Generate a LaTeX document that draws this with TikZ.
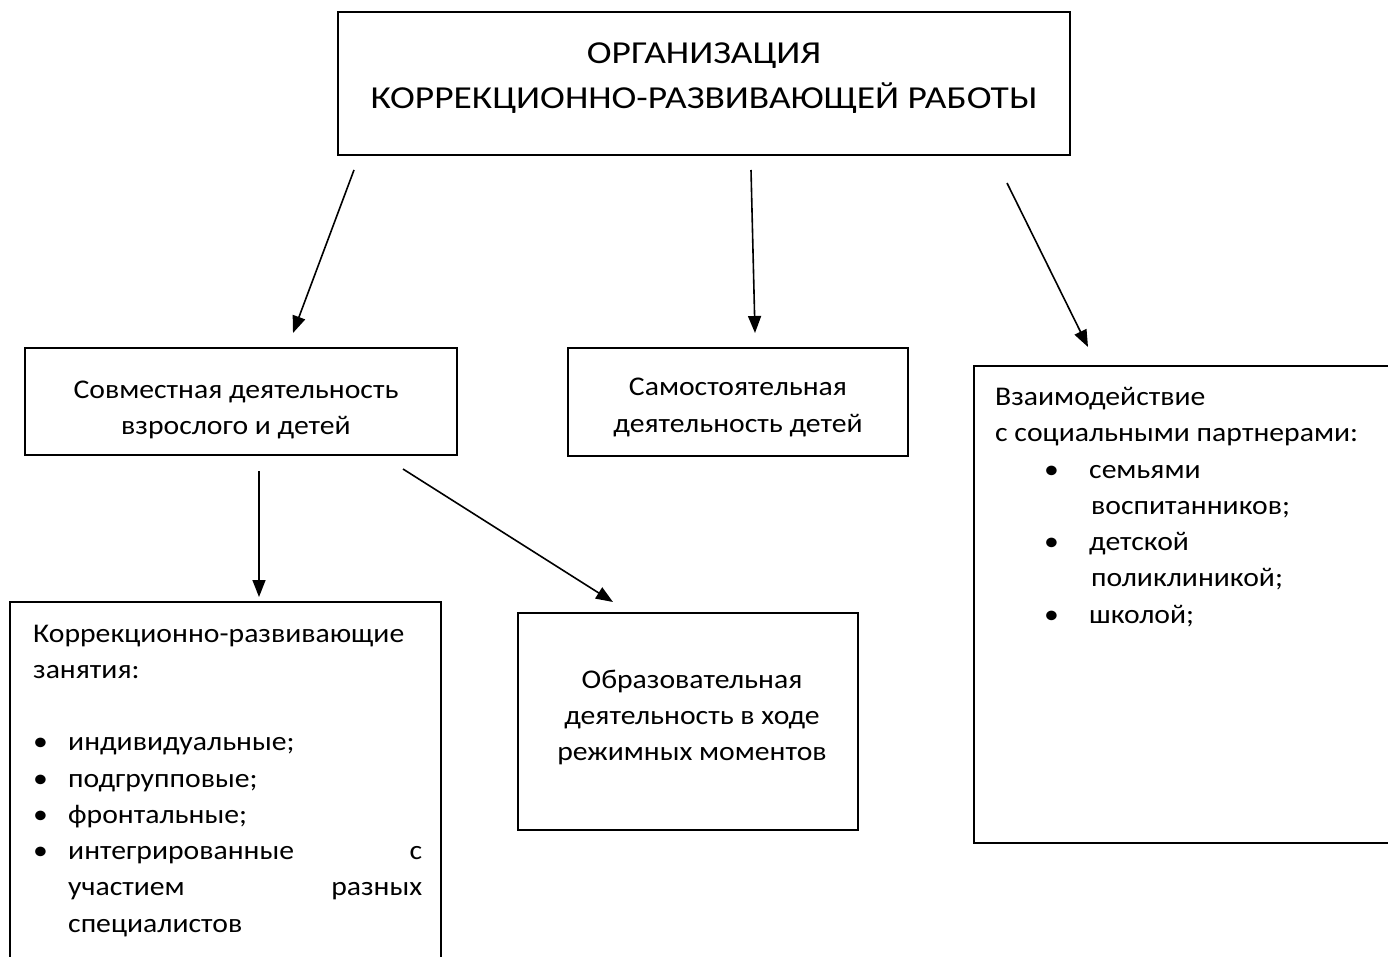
\documentclass[tikz,border=0pt]{standalone}
\usepackage{fontspec}
\setmainfont{Carlito}
\newfontfamily\bodyfont[FakeStretch=1.1]{Carlito}
\newfontfamily\titlefont[FakeStretch=1.17]{Carlito}
\usetikzlibrary{arrows.meta}
\begin{document}
\begin{tikzpicture}[x=1pt,y=-1pt,
  box/.style={draw, line width=1.9pt, inner sep=0pt},
  txt/.style={inner sep=0pt, font=\bodyfont\fontsize{27}{36.25}\selectfont},
  ttl/.style={inner sep=0pt, font=\titlefont\fontsize{32}{45}\selectfont},
  arr/.style={line width=1.6pt, -{Triangle[length=17pt,width=13pt]}}]
\clip (0,0) rectangle (1388,957);
\fill[white] (0,0) rectangle (1388,957);
% boxes
\node[box, minimum width=732pt, minimum height=143pt] (title) at (704,83.5) {};
\node[box, minimum width=432pt, minimum height=107pt] (sovm) at (241,401.5) {};
\node[box, minimum width=340pt, minimum height=108pt] (samost) at (738,402) {};
\node[box, minimum width=426pt, minimum height=477pt] (vzaim) at (1187,604.5) {};
\node[box, minimum width=431pt, minimum height=368pt] (korr) at (225.5,786) {};
\node[box, minimum width=340pt, minimum height=217pt] (obraz) at (688,721.5) {};
% texts (base anchor = last line for these nodes)
\node[ttl, anchor=base, align=center] (tTitle) at (704,109)
  {ОРГАНИЗАЦИЯ\\КОРРЕКЦИОННО-РАЗВИВАЮЩЕЙ РАБОТЫ};
\node[txt, anchor=base, align=center] (tSovm) at (236,434.25)
  {Совместная деятельность\\взрослого и детей};
\node[txt, anchor=base, align=center] (tSamost) at (738,432)
  {Самостоятельная\\деятельность детей};
\node[txt, anchor=base, align=center] (tObraz) at (692,760.5)
  {Образовательная\\деятельность в ходе\\режимных моментов};
\node[txt, anchor=base west, align=left] (tVzaim) at (995,623)
  {Взаимодействие\\
   с социальными партнерами:\\
   \hspace*{49pt}\makebox[45pt][l]{\textbullet}семьями\\
   \hspace*{96pt}воспитанников;\\
   \hspace*{49pt}\makebox[45pt][l]{\textbullet}детской\\
   \hspace*{96pt}поликлиникой;\\
   \hspace*{49pt}\makebox[45pt][l]{\textbullet}школой;};
\node[txt, anchor=base west, align=left, text width=389pt] (tKorr) at (33,642)
  {Коррекционно-развивающие\\
   занятия:\\[36.25pt]
   \makebox[35pt][l]{\textbullet}индивидуальные;\\
   \makebox[35pt][l]{\textbullet}подгрупповые;\\
   \makebox[35pt][l]{\textbullet}фронтальные;\\
   \makebox[35pt][l]{\textbullet}интегрированные\hfill с\\
   \hspace*{35pt}участием\hfill разных\\
   \hspace*{35pt}специалистов};
% arrow end points
\coordinate (a1s) at (354,170); \coordinate (a1e) at (293,333);
\coordinate (a2s) at (751,170); \coordinate (a2e) at (755,333);
\coordinate (a3s) at (1007,183); \coordinate (a3e) at (1088,347);
\coordinate (a4s) at (259,471); \coordinate (a4e) at (259,597);
\coordinate (a5s) at (403,469); \coordinate (a5e) at (613,602);
\draw[arr] (a1s) -- (a1e);
\draw[arr] (a2s) -- (a2e);
\draw[arr] (a3s) -- (a3e);
\draw[arr] (a4s) -- (a4e);
\draw[arr] (a5s) -- (a5e);
\end{tikzpicture}
\end{document}
